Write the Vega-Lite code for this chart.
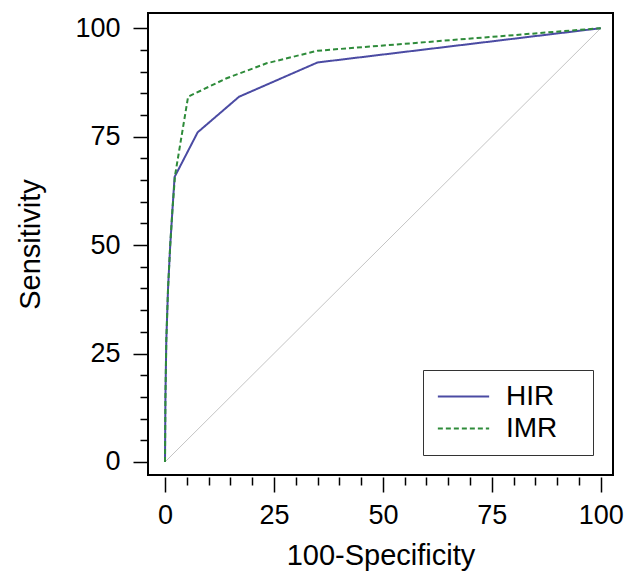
{
  "$schema": "https://vega.github.io/schema/vega-lite/v6.json",
  "width": 465,
  "height": 462,
  "autosize": "none",
  "padding": {"left": 148, "top": 13, "right": 21, "bottom": 98},
  "background": "white",
  "config": {
    "view": {"stroke": "black", "strokeWidth": 2},
    "font": "Liberation Sans"
  },
  "datasets": {
    "roc": [
      {"fpr": 0, "sens": 0, "test": "HIR"},
      {"fpr": 0.1, "sens": 15, "test": "HIR"},
      {"fpr": 0.3, "sens": 28, "test": "HIR"},
      {"fpr": 0.7, "sens": 40, "test": "HIR"},
      {"fpr": 1.2, "sens": 50, "test": "HIR"},
      {"fpr": 1.7, "sens": 58, "test": "HIR"},
      {"fpr": 2.2, "sens": 65.7, "test": "HIR"},
      {"fpr": 7.5, "sens": 76, "test": "HIR"},
      {"fpr": 17, "sens": 84.2, "test": "HIR"},
      {"fpr": 35, "sens": 92.1, "test": "HIR"},
      {"fpr": 100, "sens": 100, "test": "HIR"},
      {"fpr": 0, "sens": 0, "test": "IMR"},
      {"fpr": 0.1, "sens": 15, "test": "IMR"},
      {"fpr": 0.3, "sens": 28, "test": "IMR"},
      {"fpr": 0.7, "sens": 40, "test": "IMR"},
      {"fpr": 1.2, "sens": 50, "test": "IMR"},
      {"fpr": 1.7, "sens": 58, "test": "IMR"},
      {"fpr": 2.3, "sens": 66, "test": "IMR"},
      {"fpr": 5.3, "sens": 84.2, "test": "IMR"},
      {"fpr": 14, "sens": 88.4, "test": "IMR"},
      {"fpr": 23.3, "sens": 91.9, "test": "IMR"},
      {"fpr": 35, "sens": 94.8, "test": "IMR"},
      {"fpr": 100, "sens": 100, "test": "IMR"}
    ],
    "diag": [
      {"fpr": 0, "sens": 0},
      {"fpr": 100, "sens": 100}
    ]
  },
  "encoding": {
    "x": {
      "field": "fpr",
      "type": "quantitative",
      "scale": {"domain": [-3.9, 102.8], "nice": false, "zero": false},
      "axis": {
        "values": [0,5,10,15,20,25,30,35,40,45,50,55,60,65,70,75,80,85,90,95,100],
        "tickSize": {"condition": {"test": "datum.value % 25 === 0", "value": 15}, "value": 8},
        "labelExpr": "datum.value % 25 === 0 ? datum.label : ''",
        "domain": false,
        "grid": false,
        "offset": 2,
        "tickColor": "black",
        "tickWidth": 1.5,
        "labelFontSize": 27,
        "labelColor": "black",
        "labelPadding": 10,
        "labelFlush": false,
        "labelOverlap": false,
        "labelSeparation": -30,
        "title": "100-Specificity",
        "titleFontSize": 29,
        "titleFontWeight": "normal",
        "titleColor": "black",
        "titlePadding": 13
      }
    },
    "y": {
      "field": "sens",
      "type": "quantitative",
      "scale": {"domain": [-3.0, 103.5], "nice": false, "zero": false},
      "axis": {
        "values": [0,5,10,15,20,25,30,35,40,45,50,55,60,65,70,75,80,85,90,95,100],
        "tickSize": {"condition": {"test": "datum.value % 25 === 0", "value": 15}, "value": 8},
        "labelExpr": "datum.value % 25 === 0 ? datum.label : ''",
        "domain": false,
        "grid": false,
        "tickColor": "black",
        "tickWidth": 1.5,
        "labelFontSize": 27,
        "labelColor": "black",
        "labelPadding": 13,
        "labelFlush": false,
        "labelOverlap": false,
        "labelSeparation": -30,
        "title": "Sensitivity",
        "titleFontSize": 29,
        "titleFontWeight": "normal",
        "titleColor": "black",
        "titlePadding": 29
      }
    }
  },
  "layer": [
    {
      "data": {"name": "diag"},
      "mark": {"type": "line", "color": "#c4c4c4", "strokeWidth": 1}
    },
    {
      "data": {"name": "roc"},
      "mark": {"type": "line", "strokeWidth": 2},
      "encoding": {
        "color": {
          "field": "test",
          "type": "nominal",
          "scale": {"domain": ["HIR", "IMR"], "range": ["#4b4ba3", "#2e8b3a"]},
          "legend": {
            "title": "\u00a0",
            "titleOrient": "right",
            "titlePadding": 24,
            "titleFontSize": 28,
            "orient": "none",
            "legendX": 275,
            "legendY": 357,
            "strokeColor": "#333333",
            "padding": 12,
            "symbolType": "M-1.9,0H1.9",
            "symbolSize": 729,
            "symbolOffset": 14,
            "symbolStrokeWidth": 2,
            "symbolFillColor": "transparent",
            "labelFontSize": 28,
            "labelColor": "black",
            "labelOffset": 28,
            "rowPadding": 3
          }
        },
        "strokeDash": {
          "field": "test",
          "type": "nominal",
          "scale": {"domain": ["HIR", "IMR"], "range": [[1, 0], [5, 3]]},
          "legend": {
            "title": "\u00a0",
            "titleOrient": "right",
            "titlePadding": 24,
            "titleFontSize": 28,
            "orient": "none",
            "legendX": 275,
            "legendY": 357,
            "strokeColor": "#333333",
            "padding": 12,
            "symbolType": "M-1.9,0H1.9",
            "symbolSize": 729,
            "symbolOffset": 14,
            "symbolStrokeWidth": 2,
            "symbolFillColor": "transparent",
            "labelFontSize": 28,
            "labelColor": "black",
            "labelOffset": 28,
            "rowPadding": 3
          }
        }
      }
    }
  ]
}
